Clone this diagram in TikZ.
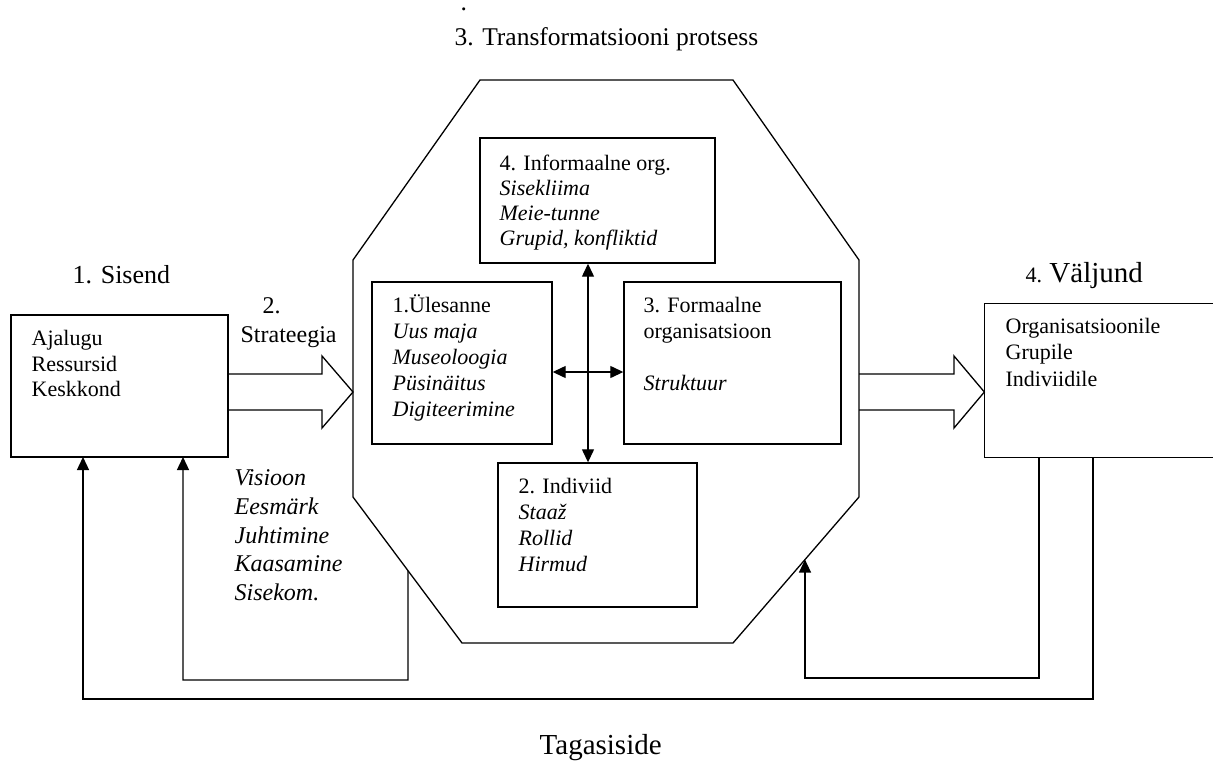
\documentclass[tikz,border=0pt]{standalone}
\usepackage{fontspec}
\setmainfont{Liberation Serif}
\usetikzlibrary{arrows.meta,calc}

% rows of text set on fixed baselines: [style], name, x, first baseline, line step, rows
\newcommand\textrows[6][row]{%
  \foreach \t [count=\i] in {#6}{%
    \node[#1] (#2-\i) at ({#3},{#4+(\i-1)*#5}) {\t};}}

\begin{document}
\begin{tikzpicture}[x=1pt,y=-1pt,line width=1.3pt,line join=miter,
  box/.style={draw,line width=1.4pt,inner sep=0pt},
  row/.style={font=\fontsize{22}{26}\selectfont,inner sep=0pt,anchor=base west},
  lst/.style={row,font=\fontsize{24}{28}\selectfont\itshape},
  head/.style={-{Triangle[length=13pt,width=12pt]}},
  both/.style={{Triangle[length=13pt,width=12pt]}-{Triangle[length=13pt,width=12pt]}}]
\useasboundingbox (0,0) rectangle (1213,761);

% ---- transformation process: octagon -----------------------------------
\coordinate (o1) at (480,80);  \coordinate (o2) at (733,80);
\coordinate (o3) at (859,260); \coordinate (o4) at (859,497);
\coordinate (o5) at (733,643); \coordinate (o6) at (462,643);
\coordinate (o7) at (353,497); \coordinate (o8) at (353,260);
\draw (o1) -- (o2) -- (o3) -- (o4) -- (o5) -- (o6) -- (o7) -- (o8) -- cycle;

% ---- inner boxes ---------------------------------------------------------
\node[box,minimum width=235pt,minimum height=125pt] (inf)   at (597.5,200.5) {};
\node[box,minimum width=180pt,minimum height=162pt] (ules)  at (462,363)     {};
\node[box,minimum width=217pt,minimum height=162pt] (form)  at (732.5,363)   {};
\node[box,minimum width=199pt,minimum height=144pt] (indiv) at (597.5,535)   {};

\textrows{infT}{499}{170.7}{25}{4. Informaalne org.,\textit{Sisekliima},\textit{Meie-tunne},{\textit{Grupid, konfliktid}}}
\textrows{ulesT}{392}{312.5}{26}{1.Ülesanne,\textit{Uus maja},\textit{Museoloogia},\textit{Püsinäitus},\textit{Digiteerimine}}
\textrows{formT}{643}{312.5}{26}{3. Formaalne,organisatsioon,{},\textit{Struktuur}}
\textrows{indivT}{518}{493}{26}{2. Indiviid,\textit{Staaž},\textit{Rollid},\textit{Hirmud}}

% cross of two-way arrows between the inner boxes
\coordinate (vx) at (588,372);
\draw[both] (vx |- inf.south) -- (vx |- indiv.north);
\draw[both] (ules.east |- vx) -- (form.west |- vx);

% ---- input -----------------------------------------------------------------
\node[box,minimum width=217pt,minimum height=142pt] (sis) at (119.5,386) {};
\textrows{sisT}{31}{345.7}{25.5}{Ajalugu,Ressursid,Keskkond}
\node[row,font=\fontsize{26}{30}\selectfont] (sisH) at (72,283) {1. Sisend};

% ---- strategy ------------------------------------------------------------
\node[row,font=\fontsize{24}{28}\selectfont] (strA) at (262,313) {2.};
\node[row,font=\fontsize{24}{28}\selectfont] (strB) at (240,342) {Strateegia};
\textrows[lst]{strL}{234}{485.7}{28.75}{Visioon,Eesmärk,Juhtimine,Kaasamine,Sisekom.}
\draw (sis.east |- 0,374) -- (322,374) -- (322,356) -- (o7 |- 0,392)
      -- (322,428) -- (322,410) -- (sis.east |- 0,410);

% ---- output --------------------------------------------------------------
\node[inner sep=0pt,minimum width=228pt,minimum height=153pt] (out) at (1099,380.5) {};
\draw[line width=1.4pt] (out.north east) -| (out.south west) -- (out.south east);
\textrows{outT}{1005}{333}{26.5}{Organisatsioonile,Grupile,Indiviidile}
\node[row] (outH) at (1025,282) {4. {\fontsize{29}{33}\selectfont Väljund}};
\draw (o4 |- 0,374) -- (954,374) -- (954,356) -- (out.west |- 0,392)
      -- (954,428) -- (954,410) -- (o4 |- 0,410);

% ---- feedback loops --------------------------------------------------------
\coordinate (f1) at (1039,457);
\coordinate (f2) at (1093,457);
\coordinate (s1) at (83,457);
\coordinate (s2) at (183,457);
\coordinate (oA) at ($(o4)!0.4286!(o5)$);
\coordinate (oB) at ($(o7)!0.5046!(o6)$);
\draw[head] (f1) -- (1039,678) -| (oA);
\draw[head] (oB) -- (408,680) -| (s2);
\draw[head] (f2) -- (1093,699) -| (s1);

% ---- headings --------------------------------------------------------------
\node[row,font=\fontsize{25.5}{30}\selectfont] (dot)   at (460,10) {.};
\node[row,font=\fontsize{25.5}{30}\selectfont] (title) at (454,45) {3. Transformatsiooni protsess};
\node[row,font=\fontsize{29}{33}\selectfont]   (fb)    at (539,754) {Tagasiside};
\end{tikzpicture}
\end{document}
